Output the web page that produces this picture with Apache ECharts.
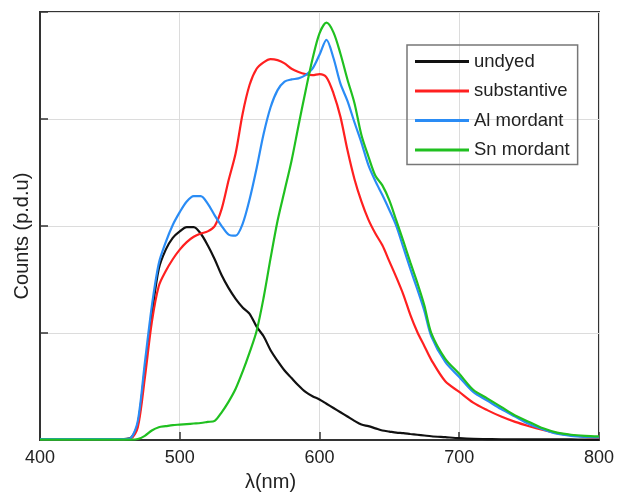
<!DOCTYPE html>
<html>
<head>
<meta charset="utf-8">
<script src="https://cdn.jsdelivr.net/npm/echarts@6/dist/echarts.min.js"></script>
<style>
  html, body { margin: 0; padding: 0; background: #fff; overflow: hidden; }
  #chart { width: 617px; height: 497px; }
</style>
</head>
<body>
<div id="chart"></div>
<script>
// wavelength (nm)
var wavelengths = [400,420,440,460,465,470,475,480,485,490,495,500,505,510,515,520,525,530,535,540,
  545,550,555,560,565,570,575,580,585,590,595,600,605,610,615,620,625,630,635,640,
  645,650,655,660,665,670,675,680,690,700,710,720,730,740,750,760,770,780,790,800];

var undyed = [0.01,0.01,0.01,0.01,0.02,0.15,0.66,1.17,1.60,1.78,1.89,1.95,1.99,1.99,1.93,1.82,1.69,1.54,1.42,1.32,
  1.24,1.18,1.06,0.97,0.84,0.74,0.65,0.58,0.51,0.45,0.41,0.38,0.34,0.30,0.26,0.22,0.18,0.145,0.13,0.11,
  0.09,0.08,0.07,0.065,0.057,0.05,0.043,0.036,0.027,0.018,0.012,0.01,0.008,0.008,0.007,0.007,0.006,0.006,0.005,0.005];

var substantive = [0.01,0.01,0.01,0.01,0.015,0.12,0.58,1.10,1.44,1.58,1.69,1.78,1.85,1.90,1.93,1.95,2.00,2.16,2.43,2.68,
  3.05,3.32,3.47,3.53,3.56,3.55,3.52,3.47,3.44,3.42,3.41,3.42,3.39,3.24,3.02,2.71,2.44,2.23,2.06,1.93,
  1.82,1.67,1.52,1.36,1.17,1.01,0.88,0.75,0.55,0.45,0.35,0.28,0.22,0.17,0.13,0.095,0.065,0.045,0.03,0.02];

var alMordant = [0.01,0.01,0.01,0.01,0.02,0.18,0.72,1.25,1.65,1.85,2.01,2.13,2.23,2.28,2.28,2.21,2.10,2.00,1.92,1.91,
  2.02,2.25,2.54,2.86,3.11,3.27,3.35,3.37,3.38,3.41,3.47,3.60,3.74,3.57,3.33,3.17,2.97,2.78,2.57,2.42,
  2.29,2.15,2.00,1.80,1.60,1.41,1.21,0.97,0.73,0.59,0.45,0.37,0.29,0.22,0.15,0.10,0.06,0.04,0.03,0.025];

var snMordant = [0.005,0.005,0.005,0.005,0.005,0.01,0.04,0.09,0.12,0.13,0.14,0.145,0.15,0.155,0.16,0.17,0.18,0.26,0.36,0.48,
  0.64,0.82,1.02,1.33,1.70,2.05,2.33,2.61,2.94,3.26,3.56,3.80,3.90,3.81,3.61,3.37,3.15,2.85,2.65,2.47,
  2.38,2.24,2.05,1.86,1.66,1.47,1.26,1.00,0.76,0.62,0.47,0.39,0.31,0.23,0.17,0.11,0.07,0.05,0.04,0.035];

var seriesNames = ['undyed', 'substantive', 'Al mordant', 'Sn mordant'];
var seriesColors = ['#111111', '#ff2020', '#2a8cf5', '#20c020'];
var seriesValues = [undyed, substantive, alMordant, snMordant];

function pairs(vals) {
  return wavelengths.map(function (w, i) { return [w, vals[i]]; });
}

var font = "'Liberation Sans', Arial, sans-serif";
var chart = echarts.init(document.getElementById('chart'), null, { width: 617, height: 497 });

chart.setOption({
  animation: false,
  textStyle: { fontFamily: font },
  grid: {
    left: 40, width: 560, top: 12, height: 441,
    show: true, borderColor: '#333', borderWidth: 2
  },
  legend: {
    orient: 'vertical',
    left: 407, top: 45,
    data: seriesNames,
    icon: 'rect',
    itemWidth: 54, itemHeight: 3,
    itemGap: 10.5,
    padding: [7, 8, 5, 8],
    borderColor: '#777', borderWidth: 1.5,
    textStyle: { fontSize: 18.5, color: '#222', fontFamily: font }
  },
  xAxis: {
    type: 'value', min: 400, max: 800, interval: 100,
    name: 'λ(nm)', nameLocation: 'middle', nameGap: 20,
    nameTextStyle: { fontSize: 20, color: '#222', padding: [0, 98, 0, 0] },
    axisLine: { lineStyle: { color: '#333', width: 2 } },
    axisTick: { inside: true, length: 8, lineStyle: { color: '#333', width: 1.5 } },
    axisLabel: { fontSize: 18, color: '#222', margin: 9 },
    splitLine: { lineStyle: { color: '#dcdcdc', width: 1 } }
  },
  yAxis: {
    type: 'value', min: 0, max: 4, interval: 1,
    name: 'Counts (p.d.u)', nameLocation: 'middle', nameGap: 8,
    nameTextStyle: { fontSize: 20, color: '#222', padding: [0, 20, 0, 0] },
    axisLine: { lineStyle: { color: '#333', width: 2 } },
    axisTick: { inside: true, length: 8, lineStyle: { color: '#333', width: 1.5 } },
    axisLabel: { show: false },
    splitLine: { lineStyle: { color: '#dcdcdc', width: 1 } }
  },
  series: seriesNames.map(function (name, i) {
    return {
      name: name,
      type: 'line',
      data: pairs(seriesValues[i]),
      showSymbol: false,
      smooth: 0.3,
      color: seriesColors[i],
      lineStyle: { width: 2.2, color: seriesColors[i] }
    };
  })
});
</script>
</body>
</html>
